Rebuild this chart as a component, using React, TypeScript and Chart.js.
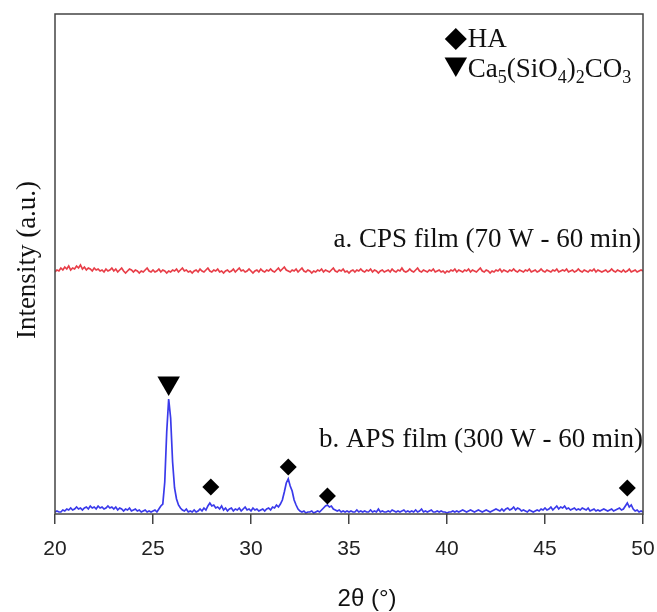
import React, { useEffect, useRef } from "react";
import { Chart, registerables } from "chart.js";

Chart.register(...registerables);

// ---- data ----
const thetaStart = 20;
const thetaStep = 0.1;
const xTicks = [20, 25, 30, 35, 40, 45, 50];

// APS film (300 W - 60 min), intensity (a.u.), 20.0 .. 50.0 step 0.1
const apsIntensity = [
  2, 3, 2, 2, 4, 3, 5, 4, 6, 4,
  5, 7, 5, 6, 4, 6, 7, 5, 8, 6,
  7, 5, 8, 6, 7, 5, 6, 8, 6, 7,
  5, 7, 4, 6, 5, 3, 5, 4, 6, 3,
  4, 5, 3, 4, 2, 3, 4, 2, 3, 2,
  3, 4, 2, 5, 8, 10, 32, 82, 115, 96,
  52, 26, 15, 9, 6, 4, 3, 5, 2, 3,
  2, 4, 2, 3, 5, 3, 6, 4, 8, 11,
  8, 9, 6, 7, 5, 8, 4, 6, 3, 5,
  6, 3, 5, 4, 6, 3, 5, 7, 4, 5,
  3, 6, 4, 5, 3, 4, 5, 3, 5, 6,
  4, 7, 6, 9, 7, 10, 14, 22, 31, 35,
  28, 23, 14, 9, 5, 3, 2, 3, 1, 2,
  2, 3, 1, 2, 3, 2, 4, 6, 8, 9,
  7, 8, 5, 4, 3, 4, 2, 3, 2, 3,
  2, 3, 2, 2, 4, 2, 3, 2, 3, 2,
  2, 4, 2, 3, 2, 5, 2, 3, 2, 2,
  3, 2, 4, 3, 2, 3, 2, 3, 4, 2,
  3, 2, 3, 2, 4, 2, 3, 5, 2, 3,
  2, 3, 4, 2, 2, 3, 2, 3, 2, 2,
  1, 2, 2, 3, 2, 3, 2, 3, 4, 3,
  2, 3, 4, 3, 2, 3, 4, 3, 2, 3,
  4, 3, 2, 3, 4, 5, 4, 3, 5, 3,
  5, 6, 4, 5, 7, 4, 6, 5, 3, 4,
  3, 2, 4, 3, 2, 3, 4, 3, 5, 4,
  6, 4, 5, 7, 4, 6, 8, 5, 7, 6,
  8, 5, 6, 4, 5, 6, 4, 5, 4, 6,
  5, 4, 6, 3, 4, 5, 3, 4, 3, 4,
  5, 4, 3, 4, 5, 3, 4, 5, 6, 4,
  5, 8, 11, 7, 9, 5, 3, 4, 2, 3,
  2,
];

// CPS film (70 W - 60 min), intensity (a.u.), 20.0 .. 50.0 step 0.1
const cpsIntensity = [
  242, 244, 243, 246, 244, 247, 245, 248, 244, 246,
  245, 248, 246, 249, 245, 247, 244, 246, 245, 243,
  246, 244, 245, 243, 244, 242, 245, 243, 244, 246,
  243, 245, 242, 244, 246, 243, 241, 243, 245, 244,
  242, 244, 243, 241, 243, 242, 244, 246, 243, 242,
  244, 242, 243, 245, 242, 244, 243, 241, 243, 242,
  244, 243, 245, 242, 244, 246, 243, 244, 242, 243,
  241, 243, 244, 242, 245, 243, 242, 244, 246, 243,
  242, 244, 243, 245, 242, 243, 241, 243, 244, 242,
  243, 245, 242, 244, 246, 243, 244, 242, 243, 245,
  243, 241, 243, 244, 242, 245, 243, 242, 244, 243,
  245, 243, 242, 244, 246, 243, 245, 247, 244, 243,
  242, 244, 243, 245, 242, 244, 246, 243, 242, 244,
  243, 241, 243, 242, 244, 243, 245, 242, 244, 243,
  242, 244, 246, 243, 242, 244, 243, 245, 242, 243,
  241, 243, 244, 242, 244, 243, 245, 243, 242, 244,
  243, 245, 242, 244, 243, 241, 243, 244, 242, 243,
  244, 242, 245, 243, 242, 244, 243, 246, 243, 242,
  243, 245, 243, 242, 244, 246, 243, 242, 244, 243,
  242, 244, 243, 245, 242, 243, 244, 242, 243, 241,
  243, 242, 244, 243, 245, 242, 244, 243, 242, 244,
  243, 245, 242, 244, 243, 242, 244, 246, 243, 242,
  244, 243, 241, 243, 242, 244, 243, 245, 242, 244,
  243, 242, 244, 243, 245, 243, 242, 244, 243, 242,
  244, 243, 245, 242, 243, 244, 242, 243, 245, 243,
  242, 244, 243, 242, 244, 243, 245, 242, 243, 244,
  243, 245, 242, 243, 244, 242, 243, 245, 243, 242,
  244, 243, 242, 244, 243, 245, 242, 244, 243, 242,
  243, 244, 242, 243, 245, 243, 242, 244, 243, 242,
  244, 242, 243, 245, 242, 243, 244, 242, 243, 244,
  243,
];

// peak markers
const haPeakTheta = [27.95, 31.9, 33.9, 49.2];
const haMarkerY = [27, 47, 18, 26];
const carbPeakTheta = [25.8];
const carbMarkerY = [131];

// legend symbol positions (data units)
const legendTheta = 40.45;
const legendHaY = 475;
const legendCarbY = 450;

const legendHaText = "HA";
const legendCarbParts: [string, boolean][] = [
  ["Ca", false], ["5", true], ["(SiO", false], ["4", true], [")", false], ["2", true], ["CO", false], ["3", true],
];
const labelCps = "a. CPS film (70 W - 60 min)";
const labelApsText = "b. APS film (300 W - 60 min)";
const labelCpsY = 267;
const labelApsY = 67;
const xTitle = "2θ (°)";
const yTitle = "Intensity (a.u.)";

const SERIF = "'Liberation Serif', 'Times New Roman', serif";
const SANS = "'Liberation Sans', Arial, sans-serif";

const twoTheta = apsIntensity.map((_, i) => +(thetaStart + i * thetaStep).toFixed(1));

const textPlugin = {
  id: "textPlugin",
  afterDraw(chart: any) {
    const { ctx, chartArea, scales } = chart;
    const xs = scales.x;
    const ys = scales.y;
    ctx.save();
    // frame
    ctx.strokeStyle = "#444";
    ctx.lineWidth = 1.5;
    ctx.strokeRect(chartArea.left, chartArea.top, chartArea.right - chartArea.left, chartArea.bottom - chartArea.top);

    ctx.fillStyle = "#111";
    // legend texts
    const lx = xs.getPixelForValue(legendTheta) + 12;
    ctx.font = `27px ${SERIF}`;
    ctx.textAlign = "left";
    ctx.textBaseline = "alphabetic";
    ctx.fillText(legendHaText, lx, ys.getPixelForValue(legendHaY) + 8);
    let cx = lx;
    const cy = ys.getPixelForValue(legendCarbY) + 13;
    for (const [t, sub] of legendCarbParts) {
      ctx.font = sub ? `18px ${SERIF}` : `27px ${SERIF}`;
      ctx.fillText(t, cx, sub ? cy + 6 : cy);
      cx += ctx.measureText(t).width;
    }

    // series labels
    ctx.font = `27px ${SERIF}`;
    ctx.textAlign = "right";
    ctx.fillText(labelCps, xs.getPixelForValue(50) - 2, ys.getPixelForValue(labelCpsY));
    ctx.fillText(labelApsText, xs.getPixelForValue(50), ys.getPixelForValue(labelApsY));

    // axis titles
    ctx.textAlign = "center";
    ctx.font = `24px ${SANS}`;
    ctx.fillText(xTitle, 367, 606);

    ctx.font = `27px ${SERIF}`;
    ctx.translate(28, 260);
    ctx.rotate(-Math.PI / 2);
    ctx.textBaseline = "middle";
    ctx.fillText(yTitle, 0, 0);
    ctx.restore();
  },
};

export default function App() {
  const ref = useRef<HTMLCanvasElement | null>(null);
  useEffect(() => {
    if (!ref.current) return;
    const chart = new Chart(ref.current, {
      type: "line",
      data: {
        datasets: [
          {
            label: "HA",
            data: haPeakTheta.map((x, i) => ({ x, y: haMarkerY[i] })),
            showLine: false,
            pointStyle: "rectRot",
            pointRadius: 8.5,
            backgroundColor: "#000",
            borderColor: "#000",
            borderWidth: 0,
            order: 0,
          },
          {
            label: "carb",
            data: carbPeakTheta.map((x, i) => ({ x, y: carbMarkerY[i] })),
            showLine: false,
            pointStyle: "triangle",
            rotation: 180,
            pointRadius: 13,
            backgroundColor: "#000",
            borderColor: "#000",
            borderWidth: 0,
            order: 0,
          },
          {
            label: "legend",
            data: [{ x: legendTheta, y: legendHaY }],
            showLine: false,
            pointStyle: "rectRot",
            pointRadius: 11,
            backgroundColor: "#000",
            borderColor: "#000",
            borderWidth: 0,
            order: 0,
          },
          {
            label: "legend2",
            data: [{ x: legendTheta, y: legendCarbY }],
            showLine: false,
            pointStyle: "triangle",
            rotation: 180,
            pointRadius: 13,
            backgroundColor: "#000",
            borderColor: "#000",
            borderWidth: 0,
            order: 0,
          },
          {
            label: labelCps,
            data: twoTheta.map((x, i) => ({ x, y: cpsIntensity[i] })),
            borderColor: "rgb(232,62,72)",
            borderWidth: 1.7,
            pointRadius: 0,
            tension: 0,
            order: 1,
          },
          {
            label: labelApsText,
            data: twoTheta.map((x, i) => ({ x, y: apsIntensity[i] })),
            borderColor: "rgb(58,58,235)",
            borderWidth: 1.7,
            pointRadius: 0,
            tension: 0,
            order: 1,
          },
        ],
      },
      options: {
        animation: false,
        responsive: true,
        maintainAspectRatio: false,
        layout: { padding: { left: 55, right: 14, top: 14, bottom: 0 } },
        plugins: { legend: { display: false }, tooltip: { enabled: false } },
        scales: {
          x: {
            type: "linear",
            min: 20,
            max: 50,
            afterBuildTicks: (scale: any) => {
              scale.ticks = xTicks.map((v) => ({ value: v }));
            },
            afterFit: (scale: any) => {
              scale.height = 98;
              scale.paddingLeft = 0;
              scale.paddingRight = 0;
            },
            ticks: {
              color: "#222",
              font: { family: SANS, size: 21 },
              padding: 13,
              maxRotation: 0,
              autoSkip: false,
            },
            grid: {
              display: true,
              drawOnChartArea: false,
              drawTicks: true,
              tickLength: 10,
              color: "#444",
              lineWidth: 1.5,
            },
            border: { display: false },
          },
          y: {
            display: false,
            min: 0,
            max: 500,
          },
        },
      },
      plugins: [textPlugin],
    } as any);
    return () => chart.destroy();
  }, []);
  return (
    <div style={{ position: "fixed", left: 0, top: 0, width: 657, height: 612, background: "#fff" }}>
      <canvas ref={ref} />
    </div>
  );
}
